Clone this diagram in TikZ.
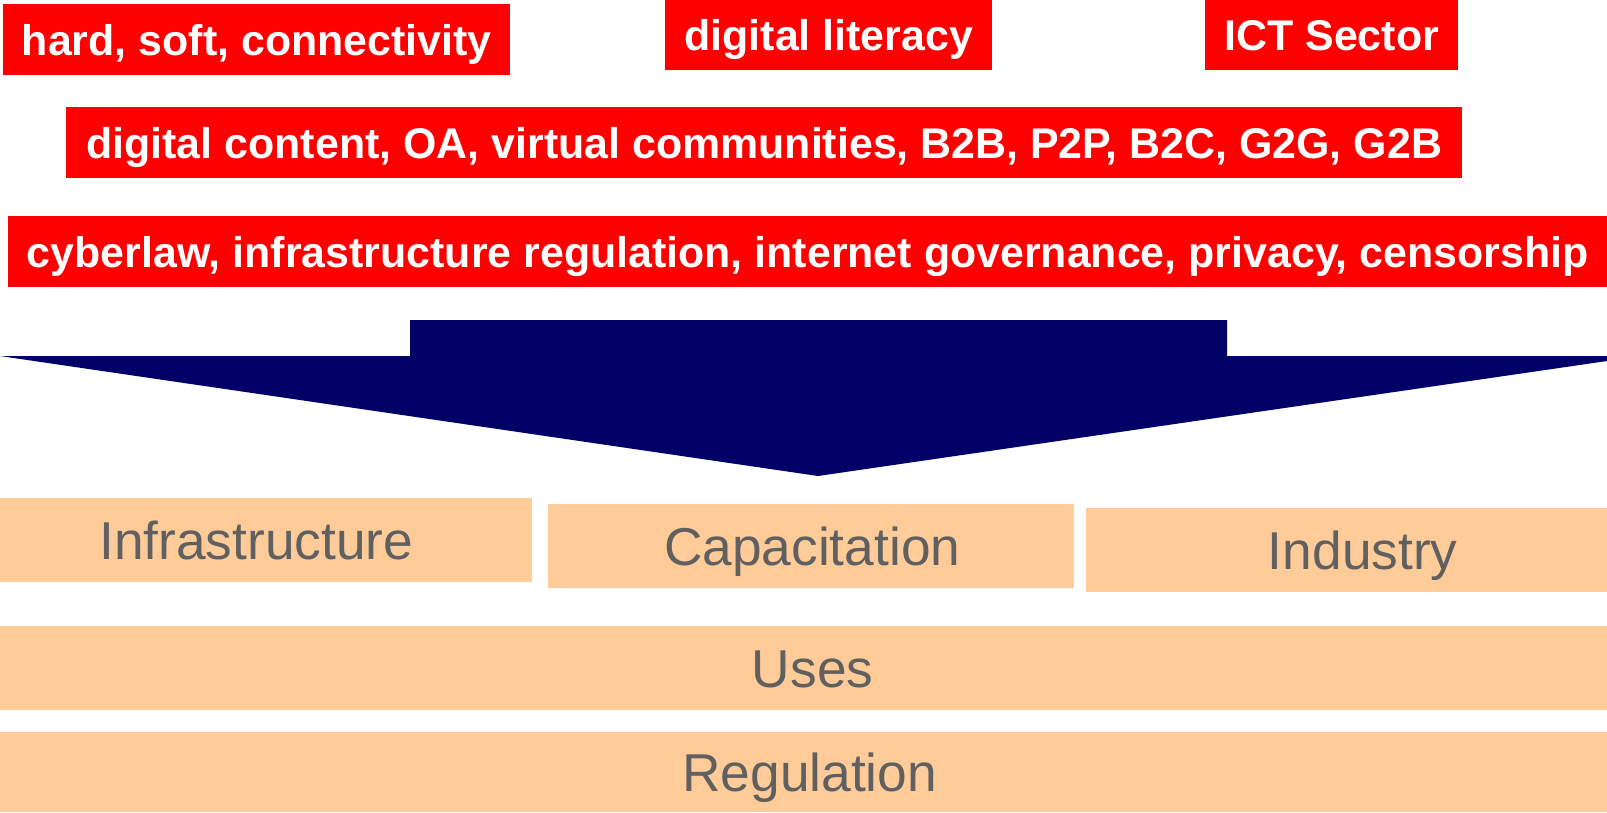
\documentclass[tikz,border=0pt]{standalone}
\usepackage{fontspec}
\setmainfont{Liberation Sans}
\definecolor{ictred}{RGB}{255,0,0}
\definecolor{ictnavy}{RGB}{0,0,102}
\definecolor{ictpeach}{RGB}{255,204,153}
\definecolor{ictgray}{RGB}{96,96,96}
\begin{document}
\begin{tikzpicture}[x=1pt,y=-1pt,
    tag/.style={fill=ictred, text=white, inner sep=0pt, anchor=north west,
        font=\fontsize{42.9}{51}\selectfont\bfseries, text height=30.7pt, text depth=0pt},
    block/.style={fill=ictpeach, text=ictgray, inner sep=0pt, anchor=north west,
        font=\fontsize{53.3}{64}\selectfont, text height=38.2pt, text depth=0pt}]
    \useasboundingbox (0,0) rectangle (1607,812);
    % red labels
    \node[tag, minimum width=507pt, minimum height=71pt] (hard) at (3,4) {hard, soft, connectivity};
    \node[tag, minimum width=327pt, minimum height=70pt] (literacy) at (665,0) {digital literacy};
    \node[tag, minimum width=253pt, minimum height=70pt] (sector) at (1205,0) {ICT Sector};
    \node[tag, minimum width=1396pt, minimum height=71pt] (content) at (66,107) {digital content, OA, virtual communities, B2B, P2P, B2C, G2G, G2B};
    \node[tag, minimum width=1599pt, minimum height=71pt] (law) at (8,216) {cyberlaw, infrastructure regulation, internet governance, privacy, censorship};
    % big arrow
    \fill[ictnavy] (0,356) -- (410,356) -- (410,320) -- (1227,320) -- (1227,356) -- (1607,356) -- (1607,361) -- (818,476) -- cycle;
    % peach blocks
    \node[block, minimum width=532pt, minimum height=84pt] (infra) at (0,498) {Infrastructure\hspace*{20pt}};
    \node[block, minimum width=526pt, minimum height=84pt] (capa) at (548,504) {\hspace*{2pt}Capacitation};
    \node[block, minimum width=521pt, minimum height=84pt] (industry) at (1086,508) {\hspace*{32pt}Industry};
    \node[block, minimum width=1607pt, minimum height=84pt] (uses) at (0,626) {\hspace*{18pt}Uses};
    \node[block, minimum width=1607pt, minimum height=80pt] (regulation) at (0,732) {\hspace*{12pt}Regulation};
\end{tikzpicture}
\end{document}
